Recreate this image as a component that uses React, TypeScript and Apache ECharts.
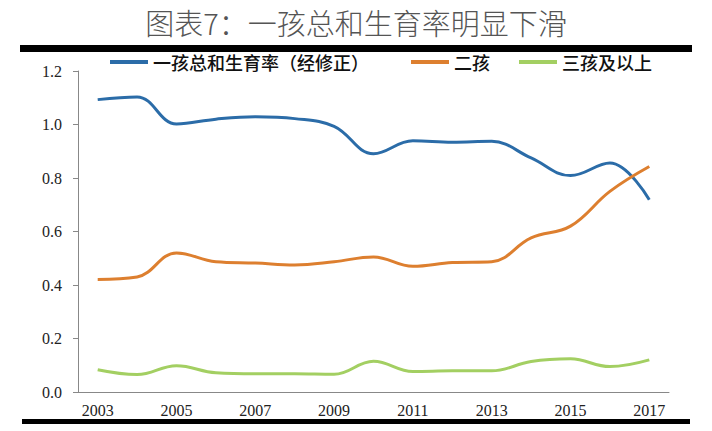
import React, { useEffect, useRef } from "react";
import * as echarts from "echarts";

const years = ["2003","2004","2005","2006","2007","2008","2009","2010","2011","2012","2013","2014","2015","2016","2017"];
const firstChild = [1.093,1.103,1.002,1.02,1.029,1.022,0.993,0.891,0.939,0.934,0.937,0.875,0.809,0.856,0.719];
const secondChild = [0.421,0.43,0.52,0.487,0.482,0.475,0.487,0.505,0.47,0.484,0.487,0.576,0.62,0.75,0.843];
const thirdPlus = [0.083,0.065,0.098,0.072,0.068,0.068,0.066,0.115,0.077,0.079,0.079,0.114,0.124,0.095,0.12];
const seriesNames = ["一孩总和生育率（经修正）", "二孩", "三孩及以上"];
const colors = ["#2B6CA8", "#DD7F2F", "#A3CF62"];
const titleText = "图表7：一孩总和生育率明显下滑";

export default function App() {
  const ref = useRef<HTMLDivElement>(null);
  useEffect(() => {
    if (!ref.current) return;
    const chart = echarts.init(ref.current, null, { renderer: "svg" });
    const dataSets = [firstChild, secondChild, thirdPlus];
    const legendLefts = [105, 406, 514];
    chart.setOption({
      animation: false,
      backgroundColor: "#ffffff",
      graphic: [
        {
          type: "text",
          left: "center",
          top: 7,
          style: {
            text: titleText,
            font: "300 29px 'Noto Sans CJK SC'",
            fill: "#555555",
          },
        },
        { type: "rect", shape: { x: 20, y: 45, width: 672, height: 7 }, style: { fill: "#000" } },
        { type: "rect", shape: { x: 22, y: 419, width: 668, height: 5 }, style: { fill: "#000" } },
      ],
      legend: seriesNames.map((n, i) => ({
        data: [n],
        left: legendLefts[i],
        top: 48,
        icon: "rect",
        itemWidth: 38,
        itemHeight: 4,
        itemGap: 0,
        textStyle: { fontFamily: "Noto Sans CJK SC", fontSize: 18, fontWeight: 500, color: "#111" },
      })),
      grid: { left: 78, right: 43, top: 71, bottom: 39 },
      xAxis: {
        type: "category",
        data: years,
        boundaryGap: true,
        axisLine: { lineStyle: { color: "#888", width: 1 } },
        axisTick: { interval: 0, length: 5, lineStyle: { color: "#888" } },
        axisLabel: {
          interval: 1,
          margin: 10,
          fontFamily: "Liberation Serif",
          fontSize: 16,
          color: "#222",
        },
      },
      yAxis: {
        type: "value",
        min: 0,
        max: 1.2,
        interval: 0.2,
        axisLine: { show: true, lineStyle: { color: "#888", width: 1 } },
        axisTick: { show: true, length: 5, lineStyle: { color: "#888" } },
        splitLine: { show: false },
        axisLabel: {
          margin: 16,
          fontFamily: "Liberation Serif",
          fontSize: 16,
          color: "#222",
          formatter: (v: number) => v.toFixed(1),
        },
      },
      series: seriesNames.map((n, i) => ({
        name: n,
        type: "line",
        data: dataSets[i],
        smooth: 0.4,
        symbol: "none",
        lineStyle: { color: colors[i], width: 3 },
        itemStyle: { color: colors[i] },
      })),
    });
    return () => chart.dispose();
  }, []);
  return <div ref={ref} style={{ width: 712, height: 431, position: "absolute", left: 0, top: 0 }} />;
}
